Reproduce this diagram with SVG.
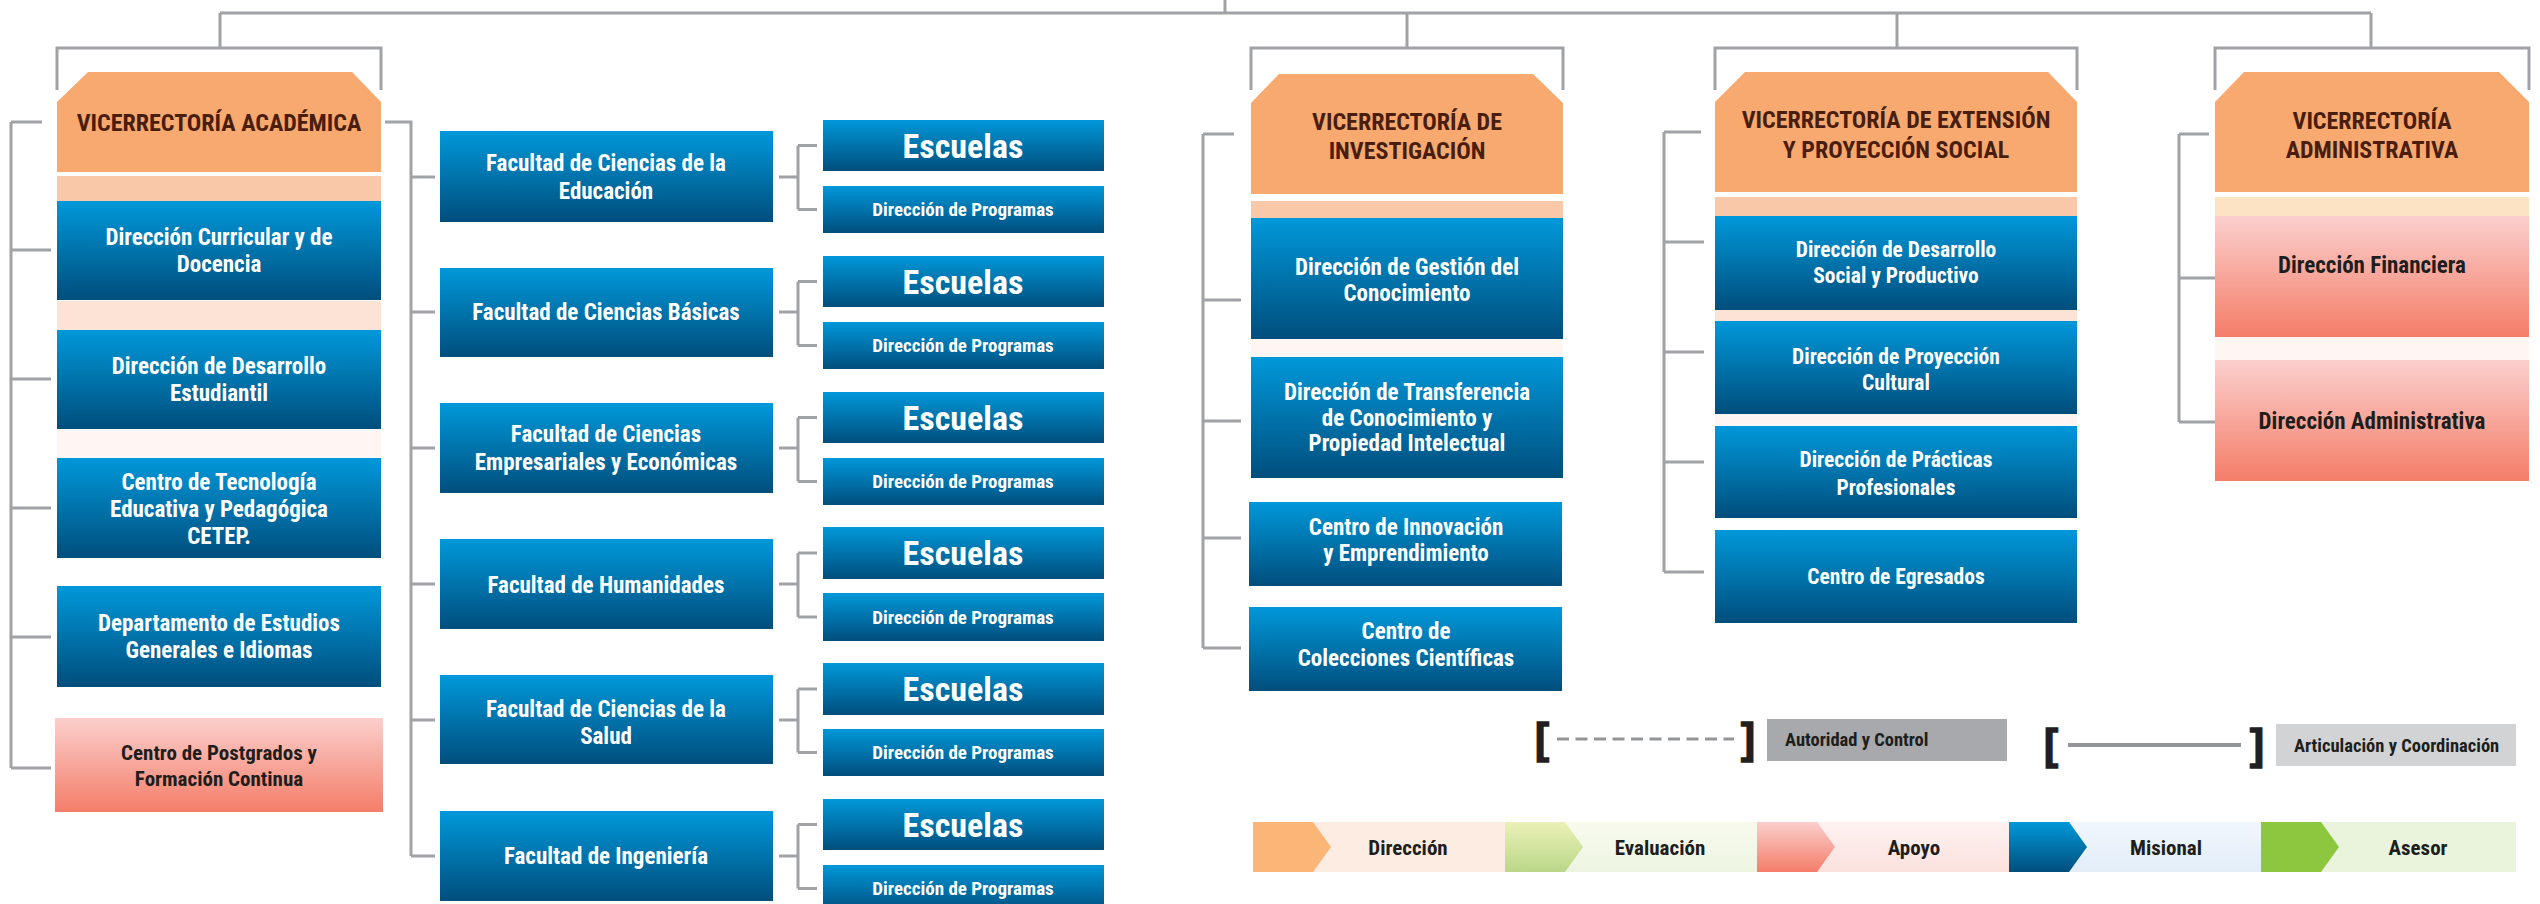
<svg xmlns="http://www.w3.org/2000/svg" width="2540" height="904" viewBox="0 0 2540 904">
<defs>
<linearGradient id="gBlue" x1="0" y1="0" x2="0" y2="1"><stop offset="0" stop-color="#0098DA"/><stop offset="1" stop-color="#004E7C"/></linearGradient>
<linearGradient id="gPink" x1="0" y1="0" x2="0" y2="1"><stop offset="0" stop-color="#FBCFCD"/><stop offset="1" stop-color="#F47D68"/></linearGradient>
<linearGradient id="gEval" x1="0" y1="0" x2="0" y2="1"><stop offset="0" stop-color="#EBF1B6"/><stop offset="1" stop-color="#BAD789"/></linearGradient>
<linearGradient id="gEvalBg" x1="0" y1="0" x2="0" y2="1"><stop offset="0" stop-color="#F8FAEE"/><stop offset="1" stop-color="#EDF5E1"/></linearGradient>
<linearGradient id="gApoyoBg" x1="0" y1="0" x2="0" y2="1"><stop offset="0" stop-color="#FDF2F1"/><stop offset="1" stop-color="#FBE1DD"/></linearGradient>
<linearGradient id="gMisBg" x1="0" y1="0" x2="0" y2="1"><stop offset="0" stop-color="#F0F6FC"/><stop offset="1" stop-color="#E3EEF9"/></linearGradient>
</defs>
<style>
.ln{stroke:#A0A2A5;stroke-width:3;fill:none}
.hdr{fill:#F8A970}
.blue{fill:url(#gBlue)}
.pink{fill:url(#gPink)}
.b1{fill:#F9C8A9}
.b2{fill:#FDE3D5}
.b3{fill:#FEF6F2}
.t{font-family:"Liberation Sans Narrow","Roboto Condensed","DejaVu Sans Condensed","Liberation Sans",sans-serif;font-weight:700;font-stretch:condensed;text-anchor:middle}
.h{fill:#4A1E0E;font-size:24px}
.w{fill:#FFFFFF;font-size:23px}
.w2{fill:#FFFFFF;font-size:21.5px}
.dk{fill:#1E1E1C;font-size:23px}
.esc{fill:#FFFFFF;font-size:34px}
.dp{fill:#FFFFFF;font-size:19px}
.lg{fill:#1E1E1C;font-size:18.5px;text-anchor:start}
.br{fill:#231F20;stroke:#231F20;stroke-width:1.6;font-size:42px;font-family:"Liberation Sans",sans-serif;font-weight:700}
.bar{fill:#1E1E1C;font-size:21px}
</style>
<rect width="2540" height="904" fill="#FFFFFF"/>

<g id="connectors">
  <path class="ln" d="M1225 0V13M220 13H2371M220 13V48M1407 13V48M1897 13V48M2371 13V48"/>
  <path class="ln" d="M57 90V48H381V90M1251 90V48H1563V90M1715 90V48H2077V90M2215 90V48H2529V90"/>
  <path class="ln" d="M11 122V768M11 122H42M11 250H51M11 379H51M11 508H51M11 637H51M11 768H51"/>
  <path class="ln" d="M385 122H411V856M411 177H435M411 312H435M411 448H435M411 584H435M411 720H435M411 856H435"/>
  <path class="ln" d="M779 177H798M798 145.5V209.5M798 145.5H817M798 209.5H817"/>
  <path class="ln" d="M779 312H798M798 281.5V345.5M798 281.5H817M798 345.5H817"/>
  <path class="ln" d="M779 448H798M798 417.5V481.5M798 417.5H817M798 481.5H817"/>
  <path class="ln" d="M779 584H798M798 553V617M798 553H817M798 617H817"/>
  <path class="ln" d="M779 720H798M798 689V752.5M798 689H817M798 752.5H817"/>
  <path class="ln" d="M779 856H798M798 824.5V888.5M798 824.5H817M798 888.5H817"/>
  <path class="ln" d="M1203 134V648M1203 134H1234M1203 300H1241M1203 421H1241M1203 538H1241M1203 648H1241"/>
  <path class="ln" d="M1664 132V572M1664 132H1701M1664 242H1704M1664 352H1704M1664 462H1704M1664 572H1704"/>
  <path class="ln" d="M2179 134V422M2179 134H2209M2179 278H2215M2179 422H2215"/>
</g>

<g id="vic-academica">
  <polygon class="hdr" points="88,72 352,72 381,102 381,172 57,172 57,102"/>
  <text class="t h" x="219" y="131">VICERRECTORÍA ACADÉMICA</text>
</g>
<rect class="b1" x="57" y="176" width="324" height="25"/>
<rect class="b2" x="57" y="301" width="324" height="29"/>
<rect class="b3" x="57" y="430" width="324" height="28"/>
<g id="dir-curricular">
  <rect class="blue" x="57" y="201" width="324" height="99"/>
  <text class="t w" x="219" y="245">Dirección Curricular y de</text>
  <text class="t w" x="219" y="272">Docencia</text>
</g>
<g id="dir-desarrollo-estudiantil">
  <rect class="blue" x="57" y="330" width="324" height="99"/>
  <text class="t w" x="219" y="374">Dirección de Desarrollo</text>
  <text class="t w" x="219" y="401">Estudiantil</text>
</g>
<g id="cetep">
  <rect class="blue" x="57" y="458" width="324" height="100"/>
  <text class="t w" x="219" y="490">Centro de Tecnología</text>
  <text class="t w" x="219" y="517">Educativa y Pedagógica</text>
  <text class="t w" x="219" y="544">CETEP.</text>
</g>
<g id="dep-estudios">
  <rect class="blue" x="57" y="586" width="324" height="101"/>
  <text class="t w" x="219" y="631">Departamento de Estudios</text>
  <text class="t w" x="219" y="658">Generales e Idiomas</text>
</g>
<g id="centro-postgrados">
  <rect class="pink" x="55" y="718" width="328" height="94"/>
  <text class="t dk" x="219" y="760" style="font-size:21px">Centro de Postgrados y</text>
  <text class="t dk" x="219" y="786" style="font-size:21px">Formación Continua</text>
</g>

<g id="fac-educacion">
  <rect class="blue" x="440" y="131" width="333" height="91"/>
  <text class="t w" x="606" y="171">Facultad de Ciencias de la</text>
  <text class="t w" x="606" y="199">Educación</text>
</g>
<g id="fac-basicas">
  <rect class="blue" x="440" y="268" width="333" height="89"/>
  <text class="t w" x="606" y="320">Facultad de Ciencias Básicas</text>
</g>
<g id="fac-empresariales">
  <rect class="blue" x="440" y="403" width="333" height="90"/>
  <text class="t w" x="606" y="442">Facultad de Ciencias</text>
  <text class="t w" x="606" y="470">Empresariales y Económicas</text>
</g>
<g id="fac-humanidades">
  <rect class="blue" x="440" y="539" width="333" height="90"/>
  <text class="t w" x="606" y="593">Facultad de Humanidades</text>
</g>
<g id="fac-salud">
  <rect class="blue" x="440" y="675" width="333" height="89"/>
  <text class="t w" x="606" y="717">Facultad de Ciencias de la</text>
  <text class="t w" x="606" y="744">Salud</text>
</g>
<g id="fac-ingenieria">
  <rect class="blue" x="440" y="811" width="333" height="90"/>
  <text class="t w" x="606" y="864">Facultad de Ingeniería</text>
</g>

<g id="escuelas-1"><rect class="blue" x="823" y="120" width="281" height="51"/><text class="t esc" x="963" y="157.5">Escuelas</text></g>
<g id="programas-1"><rect class="blue" x="823" y="186" width="281" height="47"/><text class="t dp" x="963" y="216">Dirección de Programas</text></g>
<g id="escuelas-2"><rect class="blue" x="823" y="256" width="281" height="51"/><text class="t esc" x="963" y="293.5">Escuelas</text></g>
<g id="programas-2"><rect class="blue" x="823" y="322" width="281" height="47"/><text class="t dp" x="963" y="352">Dirección de Programas</text></g>
<g id="escuelas-3"><rect class="blue" x="823" y="392" width="281" height="51"/><text class="t esc" x="963" y="429.5">Escuelas</text></g>
<g id="programas-3"><rect class="blue" x="823" y="458" width="281" height="47"/><text class="t dp" x="963" y="488">Dirección de Programas</text></g>
<g id="escuelas-4"><rect class="blue" x="823" y="527" width="281" height="52"/><text class="t esc" x="963" y="565">Escuelas</text></g>
<g id="programas-4"><rect class="blue" x="823" y="593" width="281" height="48"/><text class="t dp" x="963" y="623.5">Dirección de Programas</text></g>
<g id="escuelas-5"><rect class="blue" x="823" y="663" width="281" height="52"/><text class="t esc" x="963" y="701">Escuelas</text></g>
<g id="programas-5"><rect class="blue" x="823" y="729" width="281" height="47"/><text class="t dp" x="963" y="759">Dirección de Programas</text></g>
<g id="escuelas-6"><rect class="blue" x="823" y="799" width="281" height="51"/><text class="t esc" x="963" y="836.5">Escuelas</text></g>
<g id="programas-6"><rect class="blue" x="823" y="865" width="281" height="47"/><text class="t dp" x="963" y="895">Dirección de Programas</text></g>

<g id="vic-investigacion">
  <polygon class="hdr" points="1279,74 1533,74 1563,103 1563,194 1251,194 1251,103"/>
  <text class="t h" x="1407" y="130">VICERRECTORÍA DE</text>
  <text class="t h" x="1407" y="159">INVESTIGACIÓN</text>
</g>
<rect class="b1" x="1251" y="201" width="312" height="17"/>
<rect class="b3" x="1251" y="339" width="312" height="18"/>
<g id="dir-gestion-conocimiento">
  <rect class="blue" x="1251" y="218" width="312" height="121"/>
  <text class="t w" x="1407" y="275">Dirección de Gestión del</text>
  <text class="t w" x="1407" y="301">Conocimiento</text>
</g>
<g id="dir-transferencia">
  <rect class="blue" x="1251" y="357" width="312" height="121"/>
  <text class="t w" x="1407" y="400">Dirección de Transferencia</text>
  <text class="t w" x="1407" y="426">de Conocimiento y</text>
  <text class="t w" x="1407" y="451">Propiedad Intelectual</text>
</g>
<g id="centro-innovacion">
  <rect class="blue" x="1249" y="502" width="313" height="84"/>
  <text class="t w" x="1406" y="535">Centro de Innovación</text>
  <text class="t w" x="1406" y="561">y Emprendimiento</text>
</g>
<g id="centro-colecciones">
  <rect class="blue" x="1249" y="607" width="313" height="84"/>
  <text class="t w" x="1406" y="639">Centro de</text>
  <text class="t w" x="1406" y="666">Colecciones Científicas</text>
</g>

<g id="vic-extension">
  <polygon class="hdr" points="1745,72 2048,72 2077,102 2077,192 1715,192 1715,102"/>
  <text class="t h" x="1896" y="128">VICERRECTORÍA DE EXTENSIÓN</text>
  <text class="t h" x="1896" y="158">Y PROYECCIÓN SOCIAL</text>
</g>
<rect class="b1" x="1715" y="197" width="362" height="19"/>
<rect class="b2" x="1715" y="310" width="362" height="11"/>
<rect class="b3" x="1715" y="414" width="362" height="12"/>
<g id="dir-desarrollo-social">
  <rect class="blue" x="1715" y="216" width="362" height="94"/>
  <text class="t w2" x="1896" y="257">Dirección de Desarrollo</text>
  <text class="t w2" x="1896" y="283">Social y Productivo</text>
</g>
<g id="dir-proyeccion-cultural">
  <rect class="blue" x="1715" y="321" width="362" height="93"/>
  <text class="t w2" x="1896" y="364">Dirección de Proyección</text>
  <text class="t w2" x="1896" y="390">Cultural</text>
</g>
<g id="dir-practicas">
  <rect class="blue" x="1715" y="426" width="362" height="92"/>
  <text class="t w2" x="1896" y="467">Dirección de Prácticas</text>
  <text class="t w2" x="1896" y="495">Profesionales</text>
</g>
<g id="centro-egresados">
  <rect class="blue" x="1715" y="530" width="362" height="93"/>
  <text class="t w2" x="1896" y="584">Centro de Egresados</text>
</g>

<g id="vic-administrativa">
  <polygon class="hdr" points="2244,72 2499,72 2529,102 2529,192 2215,192 2215,102"/>
  <text class="t h" x="2372" y="129">VICERRECTORÍA</text>
  <text class="t h" x="2372" y="158">ADMINISTRATIVA</text>
</g>
<rect x="2215" y="197" width="314" height="19" fill="#FCE3C3"/>
<rect class="b3" x="2215" y="337" width="314" height="23"/>
<g id="dir-financiera">
  <rect class="pink" x="2215" y="216" width="314" height="121"/>
  <text class="t dk" x="2372" y="273">Dirección Financiera</text>
</g>
<g id="dir-administrativa">
  <rect class="pink" x="2215" y="360" width="314" height="121"/>
  <text class="t dk" x="2372" y="429">Dirección Administrativa</text>
</g>

<g id="legend-autoridad">
  <text class="br" x="1535" y="753">[</text>
  <line x1="1557" y1="739" x2="1734" y2="739" stroke="#939598" stroke-width="3" stroke-dasharray="12 6.5"/>
  <text class="br" x="1741" y="753">]</text>
  <rect x="1767" y="719" width="240" height="42" fill="#A7A9AC"/>
  <text class="t lg" x="1785" y="746">Autoridad y Control</text>
</g>
<g id="legend-articulacion">
  <text class="br" x="2044" y="759">[</text>
  <line x1="2068" y1="745" x2="2241" y2="745" stroke="#939598" stroke-width="4"/>
  <text class="br" x="2250" y="759">]</text>
  <rect x="2276" y="724" width="240" height="42" fill="#D1D3D4"/>
  <text class="t lg" x="2294" y="752">Articulación y Coordinación</text>
</g>

<g id="legend-direccion">
  <rect x="1253" y="822" width="252" height="50" fill="#FDECE2"/>
  <polygon points="1253,822 1313,822 1331,847 1313,872 1253,872" fill="#FBB677"/>
  <text class="t bar" x="1408" y="855">Dirección</text>
</g>
<g id="legend-evaluacion">
  <rect x="1505" y="822" width="252" height="50" fill="url(#gEvalBg)"/>
  <polygon points="1505,822 1565,822 1583,847 1565,872 1505,872" fill="url(#gEval)"/>
  <text class="t bar" x="1660" y="855">Evaluación</text>
</g>
<g id="legend-apoyo">
  <rect x="1757" y="822" width="252" height="50" fill="url(#gApoyoBg)"/>
  <polygon points="1757,822 1817,822 1835,847 1817,872 1757,872" fill="url(#gPink)"/>
  <text class="t bar" x="1914" y="855">Apoyo</text>
</g>
<g id="legend-misional">
  <rect x="2009" y="822" width="252" height="50" fill="url(#gMisBg)"/>
  <polygon points="2009,822 2069,822 2087,847 2069,872 2009,872" fill="url(#gBlue)"/>
  <text class="t bar" x="2166" y="855">Misional</text>
</g>
<g id="legend-asesor">
  <rect x="2261" y="822" width="255" height="50" fill="#EAF4DC"/>
  <polygon points="2261,822 2321,822 2339,847 2321,872 2261,872" fill="#8DC63F"/>
  <text class="t bar" x="2418" y="855">Asesor</text>
</g>
</svg>
